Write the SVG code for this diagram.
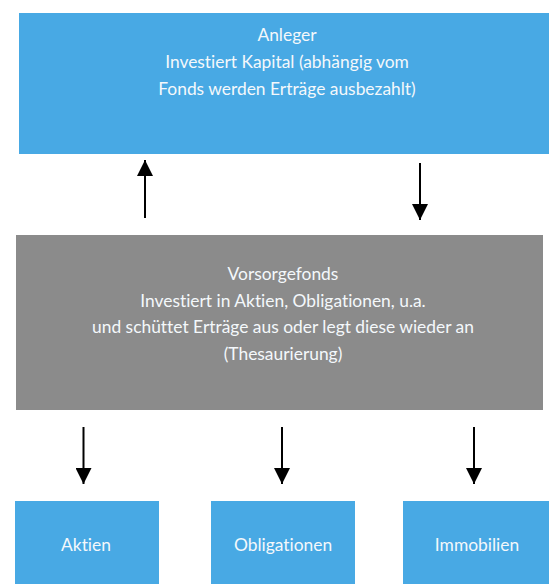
<svg xmlns="http://www.w3.org/2000/svg" width="549" height="584" viewBox="0 0 549 584">
<style>
.blue{fill:#48A9E4}
.gray{fill:#8B8B8B}
text{font-family:"Lato","Liberation Sans",sans-serif;font-size:17.4px;fill:#F4F8FB;text-anchor:middle;font-variant-ligatures:none}
.conn line{stroke:#000;stroke-width:2}
</style>
<defs>
<marker id="ah" markerWidth="8" markerHeight="8" refX="8" refY="4" orient="auto" markerUnits="strokeWidth">
<path d="M0,0 L8,4 L0,8 Z" fill="#000"/>
</marker>
</defs>
<rect width="549" height="584" fill="#fff"/>
<g id="anleger">
<rect class="blue" x="19" y="13" width="530" height="141"/>
<text x="287" y="41">Anleger</text>
<text x="287" y="68">Investiert Kapital (abhängig vom</text>
<text x="287" y="95">Fonds werden Erträge ausbezahlt)</text>
</g>
<g id="vorsorgefonds">
<rect class="gray" x="16" y="235" width="527" height="175"/>
<text x="283" y="280">Vorsorgefonds</text>
<text x="283" y="307">Investiert in Aktien, Obligationen, u.a.</text>
<text x="283" y="333">und schüttet Erträge aus oder legt diese wieder an</text>
<text x="283" y="360">(Thesaurierung)</text>
</g>
<g id="aktien">
<rect class="blue" x="15" y="501" width="144" height="83"/>
<text x="86" y="551">Aktien</text>
</g>
<g id="obligationen">
<rect class="blue" x="211" y="501" width="144" height="83"/>
<text x="283" y="551">Obligationen</text>
</g>
<g id="immobilien">
<rect class="blue" x="403" y="501" width="146" height="83"/>
<text x="477" y="551">Immobilien</text>
</g>
<g id="connectors" class="conn">
<line x1="145" y1="218" x2="145" y2="160" marker-end="url(#ah)"/>
<line x1="420" y1="163" x2="420" y2="220" marker-end="url(#ah)"/>
<line x1="83.5" y1="427" x2="83.5" y2="484" marker-end="url(#ah)"/>
<line x1="282" y1="427" x2="282" y2="484" marker-end="url(#ah)"/>
<line x1="474" y1="427" x2="474" y2="484" marker-end="url(#ah)"/>
</g>
</svg>
